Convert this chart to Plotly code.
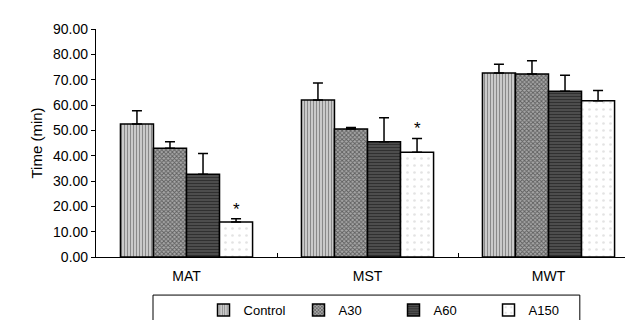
import plotly.graph_objects as go

categories = ["MAT", "MST", "MWT"]
series_names = ["Control", "A30", "A60", "A150"]
control = [52.5, 62.0, 72.6]
control_err = [5.2, 6.7, 3.5]
a30 = [42.9, 50.5, 72.2]
a30_err = [2.6, 0.6, 5.3]
a60 = [32.7, 45.5, 65.4]
a60_err = [8.2, 9.5, 6.3]
a150 = [13.8, 41.3, 61.7]
a150_err = [1.3, 5.5, 4.0]
significant_a150 = ["MAT", "MST"]
y_ticks = [0, 10, 20, 30, 40, 50, 60, 70, 80, 90]

values = [control, a30, a60, a150]
errors = [control_err, a30_err, a60_err, a150_err]
patterns = [
    dict(shape="|", bgcolor="#d8d8d8", fgcolor="#3a3a3a", size=3, solidity=0.45),
    dict(shape="x", bgcolor="#a8a8a8", fgcolor="#151515", size=3, solidity=0.5),
    dict(shape="-", bgcolor="#5a5a5a", fgcolor="#050505", size=3, solidity=0.55),
    dict(shape=".", bgcolor="#ffffff", fgcolor="#c8c8c8", size=7, solidity=0.12),
]

FONT = "Liberation Sans, Arial, Helvetica, sans-serif"
BARGAP = 0.27

fig = go.Figure()
for name, v, e, p in zip(series_names, values, errors, patterns):
    fig.add_trace(go.Bar(
        name=name, x=categories, y=v,
        marker=dict(color=p["bgcolor"], pattern=p, line=dict(color="black", width=1.5)),
        error_y=dict(type="data", array=e, arrayminus=[0] * len(e), symmetric=False,
                     color="black", thickness=1.5, width=5),
    ))

# significance stars above the A150 bars
n = len(series_names)
bar_w = (1 - BARGAP) / n
a150_offset = -(1 - BARGAP) / 2 + bar_w * (n - 0.5)
for cat in significant_a150:
    i = categories.index(cat)
    fig.add_annotation(x=i + a150_offset, y=a150[i] + a150_err[i], xref="x", yref="y",
                       text="*", showarrow=False, yanchor="bottom",
                       font=dict(size=17, color="black", family=FONT), yshift=-2)

# legend frame
fig.add_shape(type="rect", xref="paper", yref="paper", x0=0.105, x1=0.891, y0=-0.298, y1=-0.167,
              line=dict(color="black", width=1))

fig.update_layout(
    width=633, height=320,
    margin=dict(l=88, r=2, t=21, b=71, autoexpand=False),
    paper_bgcolor="white", plot_bgcolor="white",
    barmode="group", bargap=BARGAP, bargroupgap=0,
    font=dict(family=FONT, color="black", size=13),
    showlegend=True,
    legend=dict(orientation="h", x=0.198, xanchor="left", y=-0.167, yanchor="top",
                entrywidth=50, entrywidthmode="pixels",
                font=dict(size=13, family=FONT), bgcolor="rgba(0,0,0,0)",
                itemclick=False),
)
fig.update_xaxes(type="category", range=[-0.5, 2.5], showline=True, linecolor="black", linewidth=1.2,
                 ticks="inside", tickson="boundaries", ticklen=4, tickcolor="black",
                 tickfont=dict(size=14), showgrid=False, ticklabelstandoff=6)
fig.update_yaxes(range=[0, 90], tickvals=y_ticks, tickformat=".2f", showline=True,
                 linecolor="black", linewidth=1.2, ticks="outside", ticklen=4, tickcolor="black",
                 tickfont=dict(size=14), showgrid=False, zeroline=False,
                 title=dict(text="Time (min)", font=dict(size=15), standoff=6))

fig.write_html("out.html")
